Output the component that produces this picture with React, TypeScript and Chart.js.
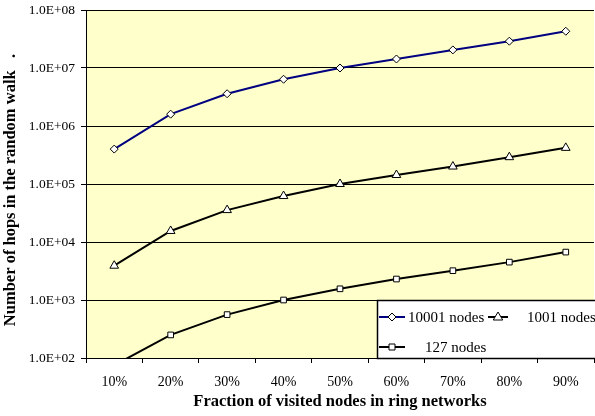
import React, { useEffect, useRef } from "react";
import { Chart, registerables } from "chart.js";

Chart.register(...registerables);

const categories = ["10%", "20%", "30%", "40%", "50%", "60%", "70%", "80%", "90%"];
const nodes10001 = [4.0e5, 1.6e6, 3.6e6, 6.4e6, 1.0e7, 1.43e7, 2.05e7, 2.9e7, 4.3e7];
const nodes1001 = [3.9e3, 1.55e4, 3.55e4, 6.2e4, 1.0e5, 1.43e5, 2.0e5, 2.9e5, 4.2e5];
const nodes127 = [75, 250, 560, 1000, 1560, 2300, 3200, 4500, 6700];
const seriesNames = ["10001 nodes", "1001 nodes", "127 nodes"];
const yTicks = [1e2, 1e3, 1e4, 1e5, 1e6, 1e7, 1e8];
const xTitle = "Fraction of visited nodes in ring networks";
const yTitle = "Number of hops in the random walk   .";

const SERIF = "'Liberation Serif', 'Times New Roman', serif";

function fmt(v: number): string {
  const e = Math.round(Math.log10(v));
  return `1.0E${e >= 0 ? "+" : "-"}${String(Math.abs(e)).padStart(2, "0")}`;
}

function drawMarker(ctx: CanvasRenderingContext2D, style: string, x: number, y: number, r: number) {
  ctx.beginPath();
  if (style === "rectRot") {
    ctx.moveTo(x, y - r);
    ctx.lineTo(x + r, y);
    ctx.lineTo(x, y + r);
    ctx.lineTo(x - r, y);
    ctx.closePath();
  } else if (style === "triangle") {
    ctx.moveTo(x, y - r);
    ctx.lineTo(x + r * 0.95, y + r * 0.6);
    ctx.lineTo(x - r * 0.95, y + r * 0.6);
    ctx.closePath();
  } else {
    ctx.rect(x - r * 0.75, y - r * 0.75, r * 1.5, r * 1.5);
  }
  ctx.fillStyle = "#ffffff";
  ctx.fill();
  ctx.strokeStyle = "#000000";
  ctx.lineWidth = 1;
  ctx.stroke();
}

const bgPlugin = {
  id: "plotBg",
  beforeDraw(chart: any) {
    const { ctx, chartArea } = chart;
    ctx.save();
    ctx.fillStyle = "#FFFFCC";
    ctx.fillRect(chartArea.left, chartArea.top, chartArea.right - chartArea.left, chartArea.bottom - chartArea.top);
    ctx.restore();
  },
};

const extrasPlugin = {
  id: "extras",
  afterDraw(chart: any) {
    const { ctx } = chart;
    ctx.save();
    // y title
    ctx.translate(11, 190);
    ctx.rotate(-Math.PI / 2);
    ctx.font = `bold 16.5px ${SERIF}`;
    ctx.fillStyle = "#000";
    ctx.textAlign = "center";
    ctx.textBaseline = "middle";
    ctx.fillText(yTitle, 0, 0);
    ctx.restore();

    // legend
    ctx.save();
    const bx = 377.5, by = 300.5, bw = 240, bh = 58;
    ctx.fillStyle = "#ffffff";
    ctx.fillRect(bx, by, bw, bh);
    ctx.strokeStyle = "#000";
    ctx.lineWidth = 1.5;
    ctx.strokeRect(bx, by, bw, bh);
    const entries = [
      { x0: 379, x1: 405, ty: 317, tx: 408 },
      { x0: 488, x1: 508, ty: 317, tx: 527 },
      { x0: 379, x1: 405, ty: 347, tx: 425 },
    ];
    chart.data.datasets.forEach((ds: any, i: number) => {
      const e = entries[i];
      ctx.strokeStyle = ds.borderColor;
      ctx.lineWidth = 2;
      ctx.beginPath();
      ctx.moveTo(e.x0, e.ty);
      ctx.lineTo(e.x1, e.ty);
      ctx.stroke();
      drawMarker(ctx, ds.pointStyle, (e.x0 + e.x1) / 2, e.ty, ds.pointRadius);
      ctx.font = `15px ${SERIF}`;
      ctx.fillStyle = "#000";
      ctx.textAlign = "left";
      ctx.textBaseline = "middle";
      ctx.fillText(seriesNames[i], e.tx, e.ty + 1);
    });
    ctx.restore();
  },
};

export default function App() {
  const ref = useRef<HTMLCanvasElement | null>(null);
  useEffect(() => {
    if (!ref.current) return;
    const chart = new Chart(ref.current, {
      type: "line",
      data: {
        labels: categories,
        datasets: [
          {
            label: seriesNames[0],
            data: nodes10001,
            borderColor: "#000080",
            borderWidth: 2,
            pointStyle: "rectRot",
            pointRadius: 4,
            pointBackgroundColor: "#ffffff",
            pointBorderColor: "#000000",
            pointBorderWidth: 1,
          },
          {
            label: seriesNames[1],
            data: nodes1001,
            borderColor: "#000000",
            borderWidth: 2,
            pointStyle: "triangle",
            pointRadius: 5,
            pointBackgroundColor: "#ffffff",
            pointBorderColor: "#000000",
            pointBorderWidth: 1,
          },
          {
            label: seriesNames[2],
            data: nodes127,
            borderColor: "#000000",
            borderWidth: 2,
            pointStyle: "rect",
            pointRadius: 4,
            pointBackgroundColor: "#ffffff",
            pointBorderColor: "#000000",
            pointBorderWidth: 1,
          },
        ],
      },
      options: {
        responsive: false,
        animation: false,
        layout: { padding: { left: 0, top: 10, right: 1, bottom: 0 } },
        plugins: { legend: { display: false }, tooltip: { enabled: false } },
        scales: {
          x: {
            type: "category",
            offset: true,
            afterFit: (s: any) => { s.height = 58; s.paddingLeft = 0; s.paddingRight = 0; },
            grid: { offset: true, drawOnChartArea: false, tickLength: 5, color: "#000", lineWidth: 1 },
            border: { color: "#000", width: 1 },
            ticks: { color: "#000", font: { family: SERIF, size: 14 }, padding: 11, maxRotation: 0 },
            title: { display: true, text: xTitle, color: "#000", font: { family: SERIF, size: 16.5, weight: "bold" }, padding: { top: 0, bottom: 4 } },
          },
          y: {
            type: "logarithmic",
            min: 100,
            max: 1e8,
            afterFit: (s: any) => { s.width = 86; s.paddingTop = 0; s.paddingBottom = 0; },
            afterBuildTicks: (s: any) => { s.ticks = yTicks.map((v) => ({ value: v })); },
            grid: { color: "#000", lineWidth: 1, tickLength: 5 },
            border: { color: "#000", width: 1 },
            ticks: { color: "#000", font: { family: SERIF, size: 13.5 }, padding: 6, callback: (v: any) => fmt(Number(v)) },
          },
        },
      },
      plugins: [bgPlugin, extrasPlugin],
    });
    return () => chart.destroy();
  }, []);
  return (
    <div style={{ position: "fixed", left: 0, top: 0, width: 595, height: 416, overflow: "hidden", background: "#fff" }}>
      <canvas ref={ref} width={600} height={416} style={{ display: "block" }} />
    </div>
  );
}
